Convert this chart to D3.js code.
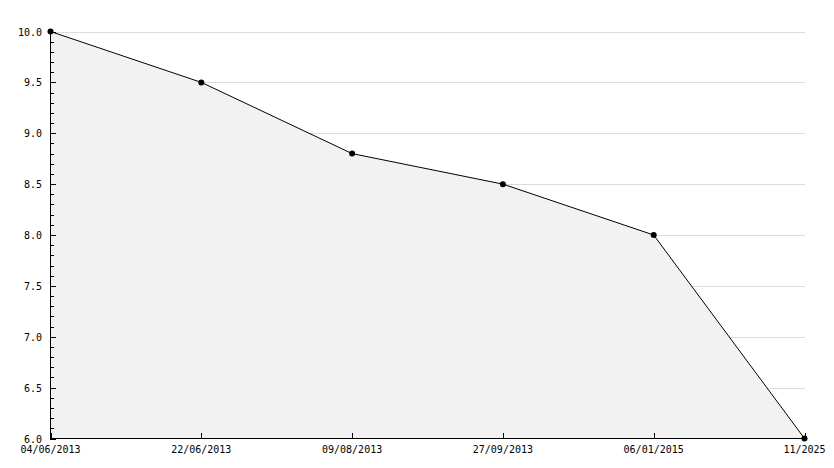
<!DOCTYPE html>
<html>
<head>
<meta charset="utf-8">
<script src="https://cdn.jsdelivr.net/npm/d3@7"></script>
<style>
  body { margin: 0; background: #fff; }
  text { font-family: 'DejaVu Sans Mono', monospace; font-size: 10px; fill: #000; }
</style>
</head>
<body>
<div id="container"></div>
<script>
const width = 834;
const height = 468;

const dates = ['04/06/2013', '22/06/2013', '09/08/2013', '27/09/2013', '06/01/2015', '11/2025'];
const values = [10.0, 9.5, 8.8, 8.5, 8.0, 6.0];
const majorTicks = [6.0, 6.5, 7.0, 7.5, 8.0, 8.5, 9.0, 9.5, 10.0];
const minorTicks = [6.1, 6.2, 6.3, 6.4, 6.6, 6.7, 6.8, 6.9, 7.1, 7.2, 7.3, 7.4, 7.6, 7.7, 7.8, 7.9,
                    8.1, 8.2, 8.3, 8.4, 8.6, 8.7, 8.8, 8.9, 9.1, 9.2, 9.3, 9.4, 9.6, 9.7, 9.8, 9.9];

const data = dates.map((d, i) => ({ date: d, value: values[i] }));

const svg = d3.select('#container')
                .append('svg')
                .attr('width', width)
                .attr('height', height);

const x = d3.scalePoint()
            .domain(dates)
            .range([50.5, 804.5]);

const y = d3.scaleLinear()
            .domain([6, 10])
            .range([438.5, 31.5]);

/* GRID */
svg.append('g')
    .selectAll('line')
    .data(majorTicks.filter(t => t > 6))
    .enter().append('line')
    .attr('x1', 50)
    .attr('x2', 805)
    .attr('y1', d => Math.round(y(d)) + 0.5)
    .attr('y2', d => Math.round(y(d)) + 0.5)
    .attr('stroke', '#dcdcdc')
    .attr('stroke-width', 1);

/* AREA + LINE */
const area = d3.area()
                .x(d => x(d.date))
                .y0(y(6))
                .y1(d => y(d.value));

svg.append('path')
    .datum(data)
    .attr('d', area)
    .attr('fill', '#f2f2f2');

const line = d3.line()
                .x(d => x(d.date))
                .y(d => y(d.value));

svg.append('path')
    .datum(data)
    .attr('d', line)
    .attr('fill', 'none')
    .attr('stroke', '#000')
    .attr('stroke-width', 1);

/* Y AXIS */
const yMinor = d3.axisRight(y)
                .tickValues(minorTicks)
                .tickSize(4)
                .tickSizeOuter(0)
                .tickFormat('');

const yMajor = d3.axisRight(y)
                .tickValues(majorTicks)
                .tickSize(6)
                .tickSizeOuter(0)
                .tickFormat('');

svg.append('g')
    .attr('transform', 'translate(50,0)')
    .style('shape-rendering', 'crispEdges')
    .call(yMinor);

svg.append('g')
    .attr('transform', 'translate(50,0)')
    .style('shape-rendering', 'crispEdges')
    .call(yMajor);

svg.append('g')
    .selectAll('text')
    .data(majorTicks)
    .enter().append('text')
    .attr('x', 42)
    .attr('y', d => y(d) + 4)
    .attr('text-anchor', 'end')
    .text(d => d.toFixed(1));

/* X AXIS */
const xAxis = d3.axisTop(x)
                .tickSize(5)
                .tickSizeOuter(0)
                .tickFormat('');

svg.append('g')
    .attr('transform', 'translate(0,438)')
    .style('shape-rendering', 'crispEdges')
    .call(xAxis);

svg.append('g')
    .selectAll('text')
    .data(dates)
    .enter().append('text')
    .attr('x', d => x(d))
    .attr('y', 453)
    .attr('text-anchor', 'middle')
    .text(d => d);

/* MARKERS */
svg.append('g')
    .selectAll('circle')
    .data(data)
    .enter().append('circle')
    .attr('cx', d => x(d.date))
    .attr('cy', d => y(d.value))
    .attr('r', 3)
    .attr('fill', '#000');
</script>
</body>
</html>
